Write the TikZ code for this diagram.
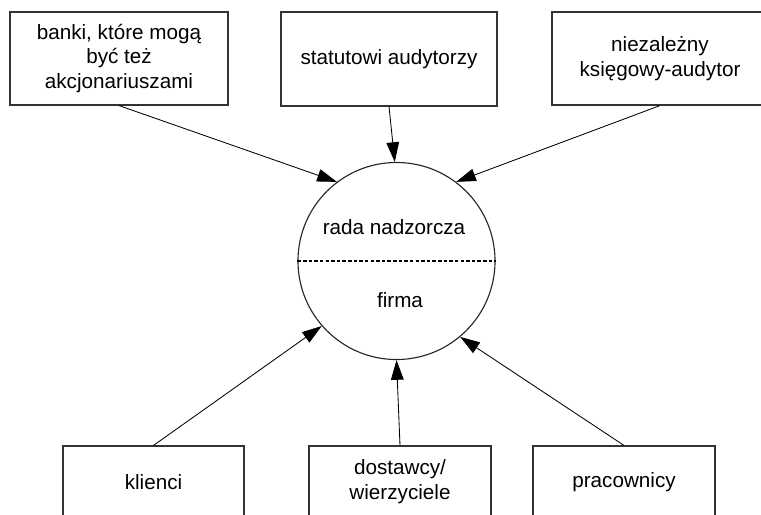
\documentclass[tikz,border=0pt]{standalone}
\usepackage{fontspec}
\setmainfont{Liberation Sans}
\usetikzlibrary{positioning,arrows.meta}

\begin{document}
\begin{tikzpicture}[x=0.025cm,y=-0.025cm,
    box/.style={rectangle,draw=black!80,line width=0.8pt,align=center,inner sep=0pt,font=\fontsize{14.7}{17.7}\selectfont},
    pfeil/.style={-{Triangle[length=14pt,width=9pt]},line width=0.6pt},
    opis/.style={font=\fontsize{14.7}{17.7}\selectfont}]
\useasboundingbox (0,0) rectangle (761,514);
% gora
\node[box,minimum width=5.45cm,minimum height=2.325cm] (banki) at (119,58.5) {banki, które mogą\\być też\\akcjonariuszami};
\node[box,minimum width=5.4cm,minimum height=2.35cm] (audyt) at (389,59) {statutowi audytorzy};
\node[box,minimum width=5.4cm,minimum height=2.325cm] (ksieg) at (660,58.5) {niezależny\\księgowy-audytor};
% srodek
\node[circle,draw=black!85,line width=0.8pt,minimum size=4.925cm] (rada) at (396.5,261) {};
\draw[line width=1.6pt,dash pattern=on 2.5pt off 1.5pt] (rada.west) -- (rada.east);
\node[opis] (nadzor) at (394,227) {rada nadzorcza};
\node[opis] (firma) at (400,300) {firma};
% dol
\node[box,minimum width=4.525cm,minimum height=1.8cm] (klienci) at (153.5,482) {klienci};
\node[box,minimum width=4.55cm,minimum height=1.8cm] (dostawcy) at (400,482) {dostawcy/\\wierzyciele};
\node[box,minimum width=4.55cm,minimum height=1.8cm] (prac) at (624,482) {pracownicy};
\foreach \s/\a in {banki.south/127,audyt.south/91,ksieg.south/53,klienci.north/221,dostawcy.north/270,prac.north/310}
    \draw[pfeil] (\s) -- (rada.\a);
\end{tikzpicture}
\end{document}
